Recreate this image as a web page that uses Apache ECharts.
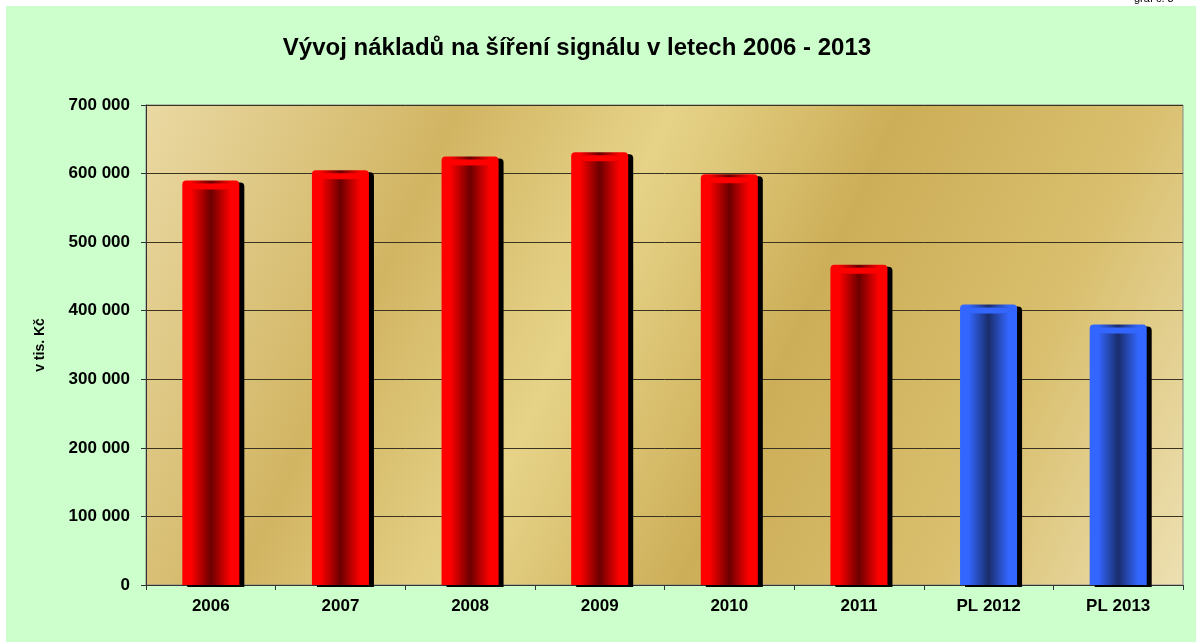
<html>
<head>
<meta charset="utf-8">
<script src="https://cdn.jsdelivr.net/npm/echarts@6/dist/echarts.min.js"></script>
<style>
  html, body { margin: 0; padding: 0; background: #fff; }
  #main { width: 1196px; height: 643px; }
</style>
</head>
<body>
<div id="main"></div>
<script>
// values in thousand CZK
var years = ['2006', '2007', '2008', '2009', '2010', '2011', 'PL 2012', 'PL 2013'];
var costs = [590000, 605000, 625000, 631000, 599000, 467000, 409000, 380000];

var chart = echarts.init(document.getElementById('main'));

function barGradient(edge, mid) {
    return new echarts.graphic.LinearGradient(0, 0, 1, 0, [
        {offset: 0, color: edge},
        {offset: 0.15, color: edge},
        {offset: 0.5, color: mid},
        {offset: 0.85, color: edge},
        {offset: 1, color: edge}
    ]);
}

function isPlan(name) {
    return name.indexOf('PL') === 0;
}

var barData = costs.map(function (v, i) {
    var plan = isPlan(years[i]);
    return {
        value: v,
        itemStyle: {
            color: plan ? barGradient('#3366ff', '#1a2d6b') : barGradient('#ff0000', '#6b0000')
        }
    };
});

var capData = costs.map(function (v, i) {
    return {
        value: v,
        itemStyle: {color: isPlan(years[i]) ? '#3366ff' : '#ff0000'}
    };
});

chart.setOption({
    animation: false,
    textStyle: {fontFamily: 'Liberation Sans, Arial, sans-serif'},
    graphic: [
        {type: 'rect', z: -10, silent: true, shape: {x: 6, y: 6, width: 1190, height: 636}, style: {fill: '#ccffcc'}},
        {type: 'text', z: 10, left: 1134, top: -7, style: {text: 'graf č. 3', font: '11px Liberation Sans', fill: '#000'}}
    ],
    title: {
        text: 'Vývoj nákladů na šíření signálu v letech 2006 - 2013',
        left: 572,
        textAlign: 'center',
        top: 31,
        textStyle: {fontSize: 24, fontWeight: 'bold', color: '#000'}
    },
    grid: {
        left: 146, right: 13, top: 105, bottom: 58,
        show: true,
        borderWidth: 1,
        borderColor: '#8a8a8a',
        backgroundColor: new echarts.graphic.LinearGradient(0, 0, 1, 1, [
            {offset: 0, color: '#ead9a3'},
            {offset: 0.25, color: '#d2b563'},
            {offset: 0.42, color: '#e6d388'},
            {offset: 0.6, color: '#cdae58'},
            {offset: 0.8, color: '#d9bf6e'},
            {offset: 1, color: '#ede0b2'}
        ])
    },
    xAxis: {
        type: 'category',
        data: years,
        axisLine: {lineStyle: {color: '#333', width: 1}},
        axisTick: {show: true, length: 5, lineStyle: {color: '#333'}},
        axisLabel: {fontSize: 17, fontWeight: 'bold', color: '#000', margin: 13}
    },
    yAxis: {
        type: 'value',
        min: 0, max: 700000, interval: 100000,
        name: 'v tis. Kč',
        nameLocation: 'middle',
        nameGap: 99,
        nameRotate: 90,
        nameTextStyle: {fontSize: 14, fontWeight: 'bold', color: '#000'},
        axisLine: {show: true, lineStyle: {color: '#333', width: 1}},
        axisTick: {show: true, length: 5, lineStyle: {color: '#333'}},
        axisLabel: {
            fontSize: 17, fontWeight: 'bold', color: '#000', margin: 16,
            formatter: function (v) {
                return String(v).replace(/\B(?=(\d{3})+(?!\d))/g, ' ');
            }
        },
        splitLine: {lineStyle: {color: '#3a3320', width: 1}}
    },
    series: [
        {
            type: 'bar',
            data: barData,
            barWidth: '44%',
            itemStyle: {
                borderRadius: [4, 4, 0, 0],
                shadowColor: '#000',
                shadowOffsetX: 5,
                shadowOffsetY: 2,
                shadowBlur: 0
            }
        },
        {
            type: 'pictorialBar',
            data: capData,
            symbol: 'roundRect',
            symbolSize: ['44%', 6],
            symbolPosition: 'end',
            symbolOffset: [0, 3],
            z: 3
        }
    ]
});
</script>
</body>
</html>
